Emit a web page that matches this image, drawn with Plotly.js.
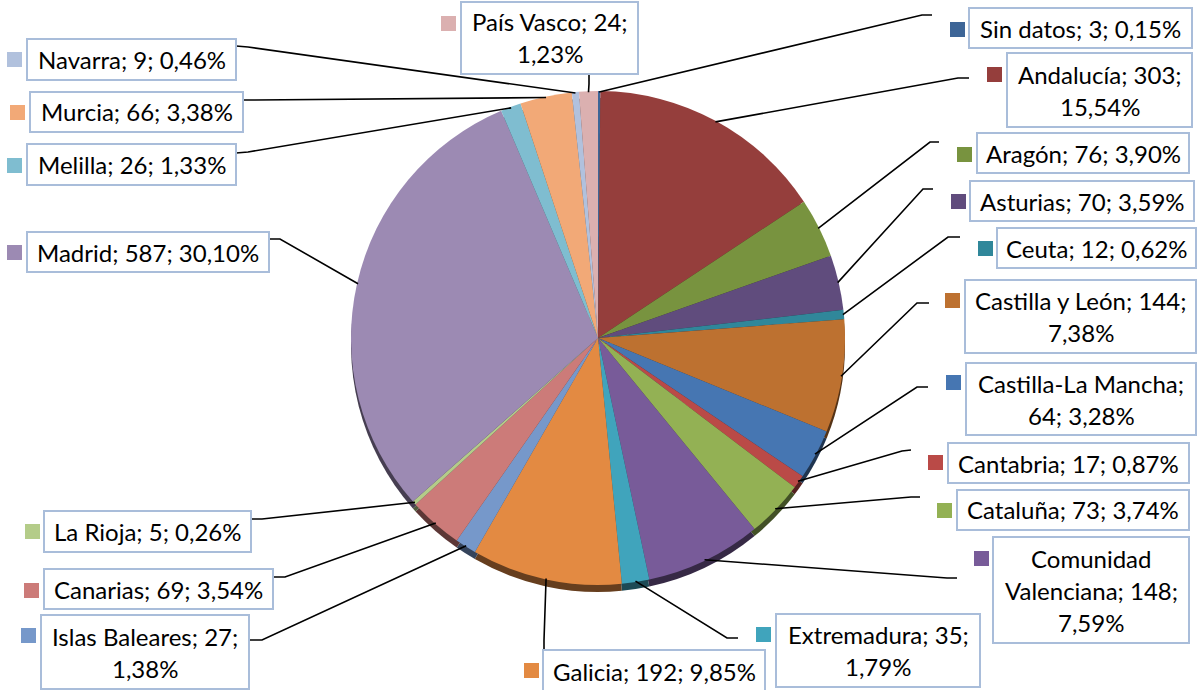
<!DOCTYPE html>
<html><head><meta charset="utf-8">
<script src="https://cdn.plot.ly/plotly-3.0.1.min.js"></script>
<style>html,body{margin:0;padding:0;background:#fff;}</style>
</head><body><div id="chart" style="width:1197px;height:690px;"></div>
<script>
// ---- data ----
const categories = ["Sin datos","Andalucía","Aragón","Asturias","Ceuta","Castilla y León","Castilla-La Mancha","Cantabria","Cataluña","Comunidad Valenciana","Extremadura","Galicia","Islas Baleares","Canarias","La Rioja","Madrid","Melilla","Murcia","Navarra","País Vasco"];
const values = [3,303,76,70,12,144,64,17,73,148,35,192,27,69,5,587,26,66,9,24];
// ---- styles ----
const colors = ["#3D6597","#953E3C","#78933F","#604C7D","#30879A","#BD7130","#4676B2","#BA4A47","#93B154","#785B99","#40A4BC","#E38A42","#7698CA","#CC7B79","#B4CC89","#9C8AB3","#7FBDD0","#F2A977","#B1C1DD","#DBB0B0"];
// token indices where a new text line starts
const lineBreaks = [[],[2],[],[],[],[4],[2],[],[],[1,3],[2],[],[3],[],[],[],[],[],[],[3]];
// label layout (pixels): box [x0,y0,x1,y1], key square [x,y], anchor [x,y], elbow [x,y]
const boxes = [[969,8,1192,48],[1007,53,1192,127],[977,133,1189,173],[970,181,1194,221],[997,228,1196,268],[965,280,1196,353],[966,363,1196,435],[948,443,1189,483],[957,490,1189,530],[993,537,1189,643],[776,614,980,687],[543,650,765,694],[41,615,249,689],[44,569,273,609],[44,511,251,552],[27,232,269,272],[27,144,236,185],[30,92,243,132],[27,39,236,80],[461,2,638,74]];
const keys = [[950,22],[987,67],[957,147],[951,194],[978,241],[945,293],[946,375],[928,455],[937,503],[974,551],[756,627],[524,663],[21,628],[24,583],[25,524],[7,245],[7,158],[10,105],[7,52],[441,16]];
const anchors = [[932,15],[969,78],[939,142],[933,189],[960,237],[929,303],[928,387],[911,450],[920,497],[957,578],[738,638],[544,650],[249,640],[273,577],[251,519],[269,239],[236,153],[243,100],[236,46],[589,74]];
const elbows = [[922,15],[958,78],[930,142],[923,189],[948,237],[917,303],[917,387],[902,451],[911,497],[947,578],[727,638],[544,640],[262,640],[285,577],[262,519],[280,239],[248,152],[255,100],[248,47],[589,84]];

const W = 1197, H = 690;
const CX = 598, CY = 338, R = 247, SH = 7;
const PX = x => x / W, PY = y => 1 - y / H;

function darken(hex, f) {
  const n = parseInt(hex.slice(1), 16);
  const r = Math.round(((n >> 16) & 255) * f), g = Math.round(((n >> 8) & 255) * f), b = Math.round((n & 255) * f);
  return "rgb(" + r + "," + g + "," + b + ")";
}

const total = values.reduce((a, b) => a + b, 0);
const pctText = values.map(v => (v / total * 100).toFixed(2).replace(".", ",") + "%");

const shadow = {
  type: "pie", values: values, labels: categories, sort: false, direction: "clockwise", rotation: 0,
  textinfo: "none", hoverinfo: "skip", showlegend: false,
  marker: { colors: colors.map(c => darken(c, 0.45)), line: { width: 0 } },
  domain: { x: [PX(CX - R), PX(CX + R)], y: [PY(CY + SH + R), PY(CY + SH - R)] }
};
const pie = {
  type: "pie", values: values, labels: categories, sort: false, direction: "clockwise", rotation: 0,
  textinfo: "none", hoverinfo: "label+value+percent", showlegend: false,
  marker: { colors: colors, line: { width: 0 } },
  domain: { x: [PX(CX - R), PX(CX + R)], y: [PY(CY + R), PY(CY - R)] }
};

const shapes = [], annotations = [];
let cum = 0;
values.forEach((v, i) => {
  const mid = (cum + v / 2) / total * 2 * Math.PI;
  cum += v;
  const ex = CX + (R - 1) * Math.sin(mid), ey = CY - (R - 1) * Math.cos(mid);
  const a = anchors[i], e = elbows[i];
  shapes.push({ type: "path", xref: "paper", yref: "paper", layer: "above",
    path: "M " + PX(a[0]) + " " + PY(a[1]) + " L " + PX(e[0]) + " " + PY(e[1]) + " L " + PX(ex) + " " + PY(ey),
    line: { color: "#000000", width: 1.6 } });
  const b = boxes[i];
  shapes.push({ type: "rect", xref: "paper", yref: "paper", layer: "above",
    x0: PX(b[0]), x1: PX(b[2]), y0: PY(b[3]), y1: PY(b[1]),
    fillcolor: "#ffffff", line: { color: "#A9BDDA", width: 2 } });
  const k = keys[i];
  shapes.push({ type: "rect", xref: "paper", yref: "paper", layer: "above",
    x0: PX(k[0]), x1: PX(k[0] + 15), y0: PY(k[1] + 15), y1: PY(k[1]),
    fillcolor: colors[i], line: { width: 0 } });
  // text lines
  const tokens = (categories[i] + "; " + values[i] + "; " + pctText[i]).split(" ");
  const starts = [0].concat(lineBreaks[i]), lines = [];
  starts.forEach((s, j) => lines.push(tokens.slice(s, j + 1 < starts.length ? starts[j + 1] : tokens.length).join(" ")));
  const bcx = (b[0] + b[2]) / 2, bcy = (b[1] + b[3]) / 2 - (i === 11 ? 1 : 0);
  lines.forEach((t, j) => {
    annotations.push({ xref: "paper", yref: "paper", x: PX(bcx), y: PY(bcy + (j - (lines.length - 1) / 2) * 32),
      xanchor: "center", yanchor: "middle", showarrow: false, text: t,
      font: { family: "Lato, 'Open Sans', sans-serif", size: 24, color: "#000000" } });
  });
});

const layout = {
  width: W, height: H, margin: { l: 0, r: 0, t: 0, b: 0 },
  paper_bgcolor: "#ffffff", plot_bgcolor: "#ffffff", showlegend: false,
  shapes: shapes, annotations: annotations
};
Plotly.newPlot("chart", [shadow, pie], layout, { displayModeBar: false, staticPlot: true });
</script>
</body></html>
